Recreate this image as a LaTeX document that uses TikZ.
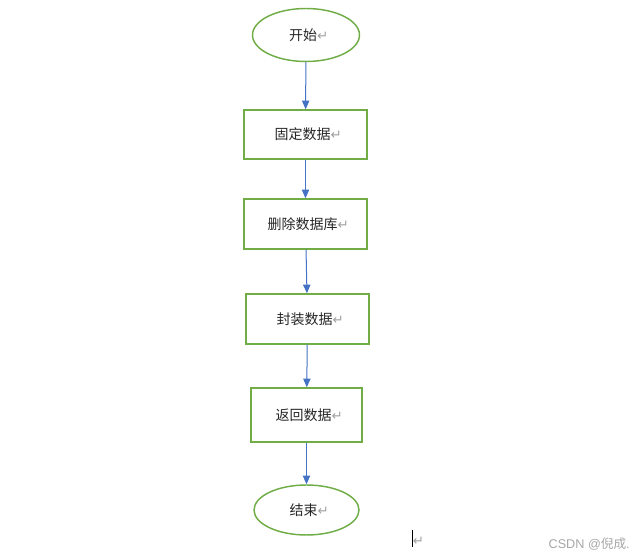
\documentclass[tikz,border=0pt]{standalone}
\usepackage{fontspec}
\usepackage{tikz}
\usetikzlibrary{arrows.meta,shapes.geometric,positioning}
\setmainfont{Noto Sans CJK SC}
\newfontfamily\symfont{DejaVu Sans}
\newfontfamily\markfont{Liberation Sans}
\definecolor{boxgreen}{HTML}{70AD47}
\definecolor{arrowblue}{HTML}{4472C4}
\definecolor{textgrey}{HTML}{262626}
\newcommand{\pmark}{{\symfont\color{gray!75}\fontsize{10}{10}\selectfont ↵}}

\begin{document}
\begin{tikzpicture}[x=0.75pt, y=-0.75pt,
  term/.style={ellipse, draw=boxgreen, line width=1.1pt, inner sep=0pt,
               text=textgrey, font=\fontsize{10.5}{12}\selectfont},
  stepbox/.style={rectangle, draw=boxgreen, line width=1.1pt, inner sep=0pt,
               text=textgrey, font=\fontsize{10.5}{12}\selectfont},
  arr/.style={-{Triangle[length=6.5pt,width=5.5pt]}, arrowblue, line width=0.75pt}
]
\useasboundingbox (0,0) rectangle (644,559);

\node[term, minimum width=107*0.75pt, minimum height=53*0.75pt] (start) at (306,35) {\hspace{4pt}开始\pmark};
\node[stepbox, minimum width=123*0.75pt, minimum height=49*0.75pt] (fix) at (305.5,134.5) {\hspace{4pt}固定数据\pmark};
\node[stepbox, minimum width=123*0.75pt, minimum height=50*0.75pt] (del) at (305.5,224) {\hspace{4pt}删除数据库\pmark};
\node[stepbox, minimum width=123*0.75pt, minimum height=50*0.75pt] (pack) at (307.5,319) {\hspace{4pt}封装数据\pmark};
\node[stepbox, minimum width=111*0.75pt, minimum height=54*0.75pt] (back) at (306.5,415) {\hspace{4pt}返回数据\pmark};
\node[term, minimum width=105*0.75pt, minimum height=50*0.75pt] (stop) at (306.5,510) {\hspace{4pt}结束\pmark};

\draw[arr] (start) -- (fix);
\draw[arr] (fix) -- (del);
\draw[arr] (del) -- (pack);
\draw[arr] (pack) -- (back);
\draw[arr] (back) -- (stop);

% cursor and end-of-line mark
\coordinate (curtop) at (412,530);
\coordinate (curbot) at (412,547);
\draw[black, line width=0.6pt] (curtop) -- (curbot);
\node[inner sep=0pt, anchor=west] (endmark) at (412.5,541) {\pmark};

\node[anchor=east, inner sep=0pt, text=gray!70,
      font=\markfont\fontsize{9.5}{11}\selectfont] (wm) at (630,544)
  {CSDN @{\fontspec{Noto Sans CJK SC}倪成}.};
\end{tikzpicture}
\end{document}
